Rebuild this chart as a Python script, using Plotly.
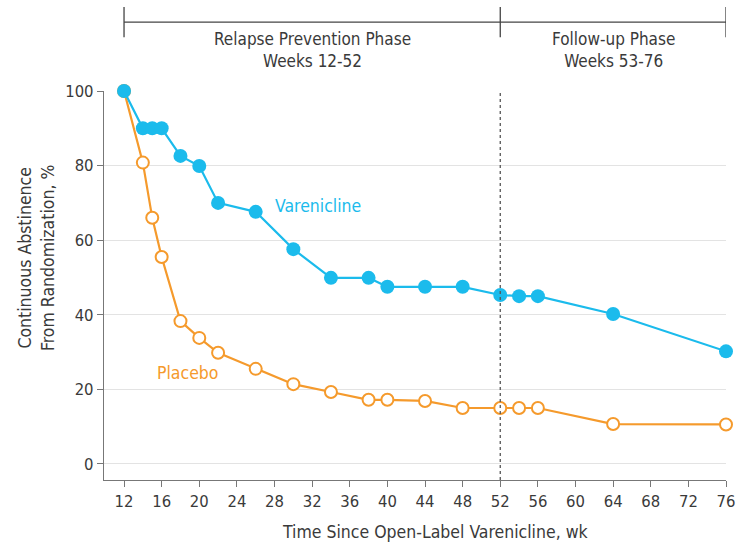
import plotly.graph_objects as go

# Weeks since open-label varenicline
weeks = [12, 14, 15, 16, 18, 20, 22, 26, 30, 34, 38, 40, 44, 48, 52, 54, 56, 64, 76]

# Continuous abstinence from randomization, %
varenicline = [100, 90, 90, 90, 82.6, 79.9, 70.0, 67.6, 57.6, 49.9, 49.9, 47.5, 47.5, 47.5, 45.3, 45.0, 45.0, 40.2, 30.2]
placebo = [100, 80.8, 66.0, 55.5, 38.3, 33.8, 29.8, 25.5, 21.4, 19.3, 17.2, 17.2, 16.9, 15.0, 15.0, 15.0, 15.0, 10.7, 10.6]

x_ticks = list(range(12, 77, 4))
y_ticks = [0, 20, 40, 60, 80, 100]

BLUE = "#1BBBEC"
ORANGE = "#F59A2C"
TEXT = "#3a3a3a"
FONT = "DejaVu Sans Condensed, Liberation Sans Narrow, sans-serif"

fig = go.Figure()

fig.add_trace(go.Scatter(
    x=weeks, y=placebo, mode="lines+markers", name="Placebo",
    line=dict(color=ORANGE, width=2.2),
    marker=dict(symbol="circle", size=12, color="white", line=dict(color=ORANGE, width=2)),
    cliponaxis=False,
))
fig.add_trace(go.Scatter(
    x=weeks, y=varenicline, mode="lines+markers", name="Varenicline",
    line=dict(color=BLUE, width=2.2),
    marker=dict(symbol="circle", size=14, color=BLUE),
    cliponaxis=False,
))

shapes = [
    # phase boundary
    dict(type="line", xref="x", yref="paper", x0=52, x1=52, y0=0, y1=1,
         line=dict(color="#555", width=1.3, dash="dot")),
    # phase bracket
    dict(type="line", xref="x", yref="paper", x0=12, x1=76, y0=1.177, y1=1.177,
         line=dict(color="#444", width=1.3)),
]
for xv in (12, 52, 76):
    shapes.append(dict(type="line", xref="x", yref="paper", x0=xv, x1=xv, y0=1.138, y1=1.216,
                       line=dict(color="#444", width=1.3)))

annotations = [
    dict(x=32, y=1.045, xref="x", yref="paper", text="Relapse Prevention Phase<br>Weeks 12-52",
         showarrow=False, font=dict(size=17, color=TEXT, family=FONT), yanchor="bottom"),
    dict(x=64, y=1.045, xref="x", yref="paper", text="Follow-up Phase<br>Weeks 53-76",
         showarrow=False, font=dict(size=17, color=TEXT, family=FONT), yanchor="bottom"),
    dict(x=32.6, y=69.2, xref="x", yref="y", text="Varenicline", showarrow=False,
         font=dict(size=17.5, color=BLUE, family=FONT)),
    dict(x=18.8, y=24.4, xref="x", yref="y", text="Placebo", showarrow=False,
         font=dict(size=17.5, color=ORANGE, family=FONT)),
    dict(xref="paper", x=(435 - 104) / 622, yref="paper", y=-52 / 389,
         xanchor="center", yanchor="middle",
         text="Time Since Open-Label Varenicline, wk",
         showarrow=False, font=dict(size=17.5, color=TEXT, family=FONT)),
    dict(xref="paper", yref="paper", x=-68 / 622, y=(480 - 258) / 389,
         xanchor="center", yanchor="middle",
         text="Continuous Abstinence<br>From Randomization, %", textangle=-90,
         showarrow=False, font=dict(size=17.5, color=TEXT, family=FONT)),
]

fig.update_layout(
    width=741, height=545,
    margin=dict(l=104, r=15, t=91, b=65, autoexpand=False),
    plot_bgcolor="white", paper_bgcolor="white",
    showlegend=False,
    shapes=shapes, annotations=annotations,
    font=dict(family=FONT, color=TEXT, size=16),
)
fig.update_xaxes(
    range=[9.87, 76], tickvals=x_ticks, ticktext=[str(v) for v in x_ticks],
    showgrid=False, zeroline=False, automargin=False,
    showline=True, linecolor="#777", linewidth=1.3,
    ticks="outside", ticklen=6, tickcolor="#777", tickwidth=1.2,
    tickfont=dict(size=16.5, color=TEXT, family=FONT),
)
fig.update_yaxes(
    range=[-4.3, 100], tickvals=y_ticks,
    showgrid=True, gridcolor="#e3e3e3", gridwidth=1.3, zeroline=False, automargin=False,
    showline=True, linecolor="#777", linewidth=1.3,
    ticks="outside", ticklen=6, tickcolor="#777", tickwidth=1.2,
    tickfont=dict(size=16.5, color=TEXT, family=FONT),
)

fig.write_html("out.html")
